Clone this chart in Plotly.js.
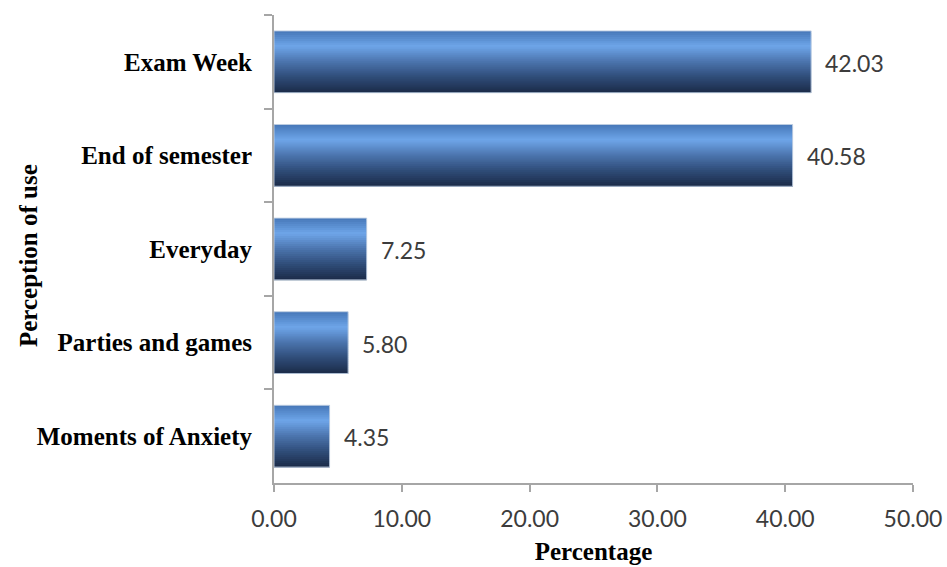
<!DOCTYPE html>
<html>
<head>
<meta charset="utf-8">
<script src="https://cdn.plot.ly/plotly-3.0.1.min.js"></script>
<style>html,body{margin:0;padding:0;background:#fff;}#chart{width:947px;height:567px;}</style>
</head>
<body>
<div id="chart"></div>
<script>
// Data (top to bottom)
const categories = ["Exam Week", "End of semester", "Everyday", "Parties and games", "Moments of Anxiety"];
const percentages = [42.03, 40.58, 7.25, 5.80, 4.35];
const valueLabels = ["42.03", "40.58", "7.25", "5.80", "4.35"];
const xTickValues = [0, 10, 20, 30, 40, 50];
const xTickLabels = ["0.00", "10.00", "20.00", "30.00", "40.00", "50.00"];

// Style: vertical gradient for bars, emulated with thin overlaid bar slices
const gradStops = [
  [0.0, [70, 119, 184]],
  [0.25, [110, 165, 233]],
  [0.5, [75, 116, 173]],
  [0.75, [47, 76, 120]],
  [1.0, [27, 43, 72]]
];
function gradColor(t) {
  for (let i = 0; i < gradStops.length - 1; i++) {
    const [t0, c0] = gradStops[i], [t1, c1] = gradStops[i + 1];
    if (t >= t0 && t <= t1) {
      const f = (t - t0) / (t1 - t0);
      const c = c0.map((v, k) => Math.round(v + (c1[k] - v) * f));
      return `rgb(${c[0]},${c[1]},${c[2]})`;
    }
  }
  const c = gradStops[gradStops.length - 1][1];
  return `rgb(${c[0]},${c[1]},${c[2]})`;
}

const barWidth = 0.66;
const nSlices = 31;
const sliceW = barWidth / nSlices;
const traces = [];
for (let i = 0; i < nSlices; i++) {
  const last = i === nSlices - 1;
  traces.push({
    type: "bar",
    orientation: "h",
    x: percentages,
    y: categories,
    width: last ? sliceW : sliceW * 2.2,
    offset: -barWidth / 2 + i * sliceW,
    marker: { color: gradColor((i + 0.5) / nSlices), line: { width: 0 } },
    hoverinfo: "skip",
    showlegend: false
  });
}
// thin light outline
traces.push({
  type: "bar",
  orientation: "h",
  x: percentages,
  y: categories,
  width: barWidth,
  offset: -barWidth / 2,
  marker: { color: "rgba(0,0,0,0)", line: { color: "rgba(190,205,225,0.9)", width: 1 } },
  hoverinfo: "skip",
  showlegend: false
});

const annotations = categories.map((c, i) => ({
  x: percentages[i],
  y: c,
  xref: "x",
  yref: "y",
  text: valueLabels[i],
  showarrow: false,
  xanchor: "left",
  yanchor: "middle",
  xshift: 12,
  yshift: -1,
  font: { family: "Lato, 'Open Sans', sans-serif", size: 23, color: "#3c3c3c" }
}));
annotations.push({
  text: "<b>Perception of use</b>",
  xref: "paper",
  yref: "paper",
  x: -246 / 639,
  y: 0.485,
  xanchor: "center",
  yanchor: "middle",
  textangle: -90,
  showarrow: false,
  font: { family: "'Liberation Serif', 'Times New Roman', serif", size: 25, color: "#000" }
});

const layout = {
  width: 947,
  height: 567,
  margin: { l: 274, r: 34, t: 15, b: 84 },
  paper_bgcolor: "#ffffff",
  plot_bgcolor: "#ffffff",
  barmode: "overlay",
  showlegend: false,
  xaxis: {
    range: [0, 50],
    tickvals: xTickValues,
    ticktext: xTickLabels,
    showgrid: false,
    zeroline: false,
    showline: true,
    linecolor: "#a6a6a6",
    linewidth: 2,
    ticks: "outside",
    ticklen: 7,
    tickwidth: 2,
    tickcolor: "#a6a6a6",
    ticklabelstandoff: 7,
    tickfont: { family: "Lato, 'Open Sans', sans-serif", size: 23, color: "#3c3c3c" },
    title: {
      text: "<b>Percentage</b>",
      font: { family: "'Liberation Serif', 'Times New Roman', serif", size: 25, color: "#000" },
      standoff: 12
    },
    fixedrange: true
  },
  yaxis: {
    type: "category",
    categoryorder: "array",
    categoryarray: categories,
    autorange: "reversed",
    showgrid: false,
    zeroline: false,
    showline: true,
    linecolor: "#a6a6a6",
    linewidth: 2,
    ticks: "outside",
    tickson: "boundaries",
    ticklen: 8,
    tickwidth: 2,
    tickcolor: "#a6a6a6",
    ticklabelstandoff: 15,
    tickfont: { family: "'Liberation Serif', 'Times New Roman', serif", size: 25, color: "#000", weight: "bold" },
    fixedrange: true
  },
  annotations: annotations
};

Plotly.newPlot("chart", traces, layout, { displayModeBar: false, staticPlot: true });
</script>
</body>
</html>
